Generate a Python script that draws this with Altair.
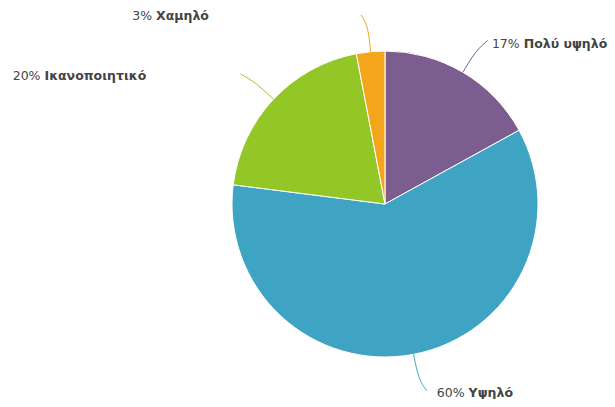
import altair as alt
import pandas as pd
import numpy as np

# ---- data ----
categories = ["Πολύ υψηλό", "Υψηλό", "Ικανοποιητικό", "Χαμηλό"]
values = [17, 60, 20, 3]
pct_labels = ["17%", "60%", "20%", "3%"]
colors = ["#7b5e8f", "#3fa3c4", "#93c627", "#f5a51c"]

# ---- layout (not data) ----
W, H = 599, 391
CX, CY, R = 377, 196, 153
R_MID, R_END, HOOK = 178, 190, 6
label_dx = [32, 38, -200, -209]
label_dy = [3.5, 2, 2.5, 1.5]
FS = 12.5
TXT = "#444444"

df = pd.DataFrame({"category": categories, "value": values, "idx": range(len(values))})

total = sum(values)
cum = np.cumsum([0] + values)
line_rows, label_rows = [], []
for i, cat in enumerate(categories):
    a = (cum[i] + cum[i + 1]) / 2 / total * 2 * np.pi
    s, c = np.sin(a), np.cos(a)
    side = 1 if s >= 0 else -1
    p0 = (CX + R * s, CY - R * c)
    p1 = (CX + R_MID * s, CY - R_MID * c)
    p2 = (CX + R_END * s + side * HOOK, CY - R_END * c)
    for k, p in enumerate([p0, p1, p2]):
        line_rows.append({"category": cat, "pt": k, "x": p[0], "y": p[1]})
    label_rows.append({"category": cat, "pct": pct_labels[i], "name": cat,
                       "xp": p2[0] + label_dx[i], "xn": p2[0] + label_dx[i] + 4,
                       "y": p2[1] + label_dy[i]})
lines = pd.DataFrame(line_rows)
labels = pd.DataFrame(label_rows)

color_scale = alt.Scale(domain=categories, range=colors)
xs = alt.Scale(domain=[0, W], range=[0, W], nice=False, zero=False)
ys = alt.Scale(domain=[0, H], range=[0, H], nice=False, zero=False)

pie = alt.Chart(df).mark_arc(radius=R, stroke="white", strokeWidth=1).encode(
    theta=alt.Theta("value:Q", stack=True),
    color=alt.Color("category:N", scale=color_scale, legend=None),
    order=alt.Order("idx:Q"),
    x=alt.value(CX),
    y=alt.value(CY),
)

conn = alt.Chart(lines).mark_line(interpolate="basis", strokeWidth=1).encode(
    x=alt.X("x:Q", scale=xs, axis=None),
    y=alt.Y("y:Q", scale=ys, axis=None),
    color=alt.Color("category:N", scale=color_scale, legend=None),
    detail="category:N",
    order=alt.Order("pt:Q"),
)

pct_text = alt.Chart(labels).mark_text(
    align="right", baseline="middle", font="DejaVu Sans", fontSize=FS, color=TXT
).encode(
    x=alt.X("xp:Q", scale=xs, axis=None),
    y=alt.Y("y:Q", scale=ys, axis=None),
    text="pct:N",
)

name_text = alt.Chart(labels).mark_text(
    align="left", baseline="middle", font="DejaVu Sans", fontSize=FS,
    fontWeight="bold", color=TXT
).encode(
    x=alt.X("xn:Q", scale=xs, axis=None),
    y=alt.Y("y:Q", scale=ys, axis=None),
    text="name:N",
)

chart = alt.layer(pie, conn, pct_text, name_text).properties(
    width=W, height=H, padding=0, autosize=alt.AutoSizeParams(type="none"),
    background="white",
).configure_view(stroke=None)

chart.save("out.html", embed_options={"renderer": "svg", "actions": False})
